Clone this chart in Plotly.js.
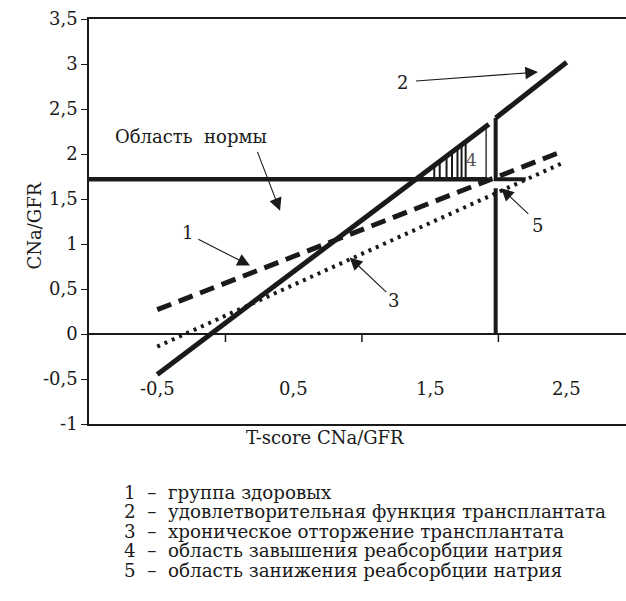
<!DOCTYPE html>
<html><head><meta charset="utf-8">
<script src="https://cdn.plot.ly/plotly-3.0.1.min.js"></script>
<style>html,body{margin:0;padding:0;background:#fff}</style>
</head><body><div id="chart"></div>
<script>
// --- data ---
const line1X = [-0.5, 2.47];            // 1 – группа здоровых (dashed)
const line1Y = [0.27, 2.03];
const line2X = [-0.5, 1.93, null, 1.98, 2.5];   // 2 – удовлетворительная функция (solid)
const line2Y = [-0.45, 2.33, null, 2.40, 3.02];
const line3X = [-0.5, 2.47];            // 3 – хроническое отторжение (dotted)
const line3Y = [-0.14, 1.90];
const normLevel = 1.72;                 // Область нормы
const normX = [-1, 1.92];
const region4EdgeX = [1.91, 1.91];
const region4EdgeY = [1.72, 2.32];
const hatchX = [1.53, 1.57, 1.62, 1.66, 1.70, 1.73, 1.76];
const hatchTop = [1.88, 1.93, 1.98, 2.03, 2.08, 2.11, 2.15];
const region5X = [1.98, 1.98, 2.20];
const region5Y = [2.40, 1.72, 1.72];
const cutX = [1.98, 1.98];
const cutY = [1.62, 0];
const yTickVals = [-1, -0.5, 0, 0.5, 1, 1.5, 2, 2.5, 3, 3.5];
const yTickText = ['-1', '-0,5', '0', '0,5', '1', '1,5', '2', '2,5', '3', '3,5'];
const xLabelVals = [-0.5, 0.5, 1.5, 2.5];
const xLabelText = ['-0,5', '0,5', '1,5', '2,5'];
const xTickMarks = [0, 1, 2];
const legendNums = ['1', '2', '3', '4', '5'];
const legendLabels = ['группа здоровых', 'удовлетворительная функция трансплантата',
  'хроническое отторжение трансплантата', 'область завышения реабсорбции натрия',
  'область занижения реабсорбции натрия'];
// labels with arrows: [text, textX, textY, tailX, tailY, headX, headY]
const callouts = [
  ['2', 1.30, 2.80, 1.385, 2.81, 2.29, 2.91],
  ['Область\u00a0\u00a0нормы', -0.256, 2.19, 0.23, 2.04, 0.40, 1.37],
  ['1', -0.28, 1.13, -0.21, 1.06, 0.18, 0.76],
  ['3', 1.23, 0.37, 1.19, 0.45, 0.91, 0.85],
  ['5', 2.29, 1.21, 2.23, 1.32, 2.02, 1.62]
];

const ink = '#1a1a1a';
const fam = 'DejaVu Serif';

const hx = [], hy = [];
hatchX.forEach((x, i) => { hx.push(x, x, null); hy.push(normLevel, hatchTop[i], null); });

const traces = [
  {x: line3X, y: line3Y, mode: 'lines', line: {color: ink, width: 4, dash: '3px,5px'}},
  {x: line1X, y: line1Y, mode: 'lines', line: {color: ink, width: 5, dash: '15px,8px'}},
  {x: hx, y: hy, mode: 'lines', line: {color: ink, width: 2}},
  {x: region4EdgeX, y: region4EdgeY, mode: 'lines', line: {color: ink, width: 1.3}},
  {x: normX, y: [normLevel, normLevel], mode: 'lines', line: {color: ink, width: 4.5}},
  {x: line2X, y: line2Y, mode: 'lines', line: {color: ink, width: 5}},
  {x: region5X, y: region5Y, mode: 'lines', line: {color: ink, width: 4}},
  {x: cutX, y: cutY, mode: 'lines', line: {color: ink, width: 4}}
].map(t => Object.assign(t, {showlegend: false, hoverinfo: 'skip', connectgaps: false}));

const annotations = [];
callouts.forEach(c => {
  annotations.push({x: c[1], y: c[2], xref: 'x', yref: 'y', text: c[0], showarrow: false,
    font: {family: fam, size: 18, color: ink}});
  annotations.push({x: c[5], y: c[6], ax: c[3], ay: c[4], xref: 'x', yref: 'y', axref: 'x', ayref: 'y',
    text: '', showarrow: true, arrowhead: 2, arrowsize: 2.3, arrowwidth: 1.1, arrowcolor: ink, standoff: 0});
});
annotations.push({x: 1.80, y: 1.93, xref: 'x', yref: 'y', text: '4', showarrow: false,
  font: {family: fam, size: 17, color: '#555'}});
xLabelVals.forEach((v, i) => annotations.push({x: v, y: -0.6, xref: 'x', yref: 'y', text: xLabelText[i],
  showarrow: false, font: {family: fam, size: 18, color: ink}}));
annotations.push({x: (325 - 89) / 537, y: -0.033, xref: 'paper', yref: 'paper', text: 'T-score CNa/GFR',
  showarrow: false, yanchor: 'middle', font: {family: fam, size: 18, color: ink}});
annotations.push({x: (22 - 89) / 537, y: 0.489, xref: 'paper', yref: 'paper', text: 'CNa/GFR', textangle: -90,
  showarrow: false, font: {family: fam, size: 18, color: ink}});
legendNums.forEach((n, i) => annotations.push({x: (122 - 89) / 537, y: (424 - (492 + i * 19.6)) / 405,
  xref: 'paper', yref: 'paper', xanchor: 'left', yanchor: 'middle', showarrow: false,
  text: n + '\u00a0\u00a0–\u00a0\u00a0' + legendLabels[i], font: {family: fam, size: 18.3, color: ink}}));

const shapes = xTickMarks.map(v => ({type: 'line', xref: 'x', yref: 'y', ysizemode: 'pixel', yanchor: 0,
  x0: v, x1: v, y0: 0, y1: -8, line: {color: ink, width: 1.5}}));

const layout = {
  width: 626, height: 601,
  margin: {l: 89, r: 0, t: 19, b: 177},
  paper_bgcolor: '#fff', plot_bgcolor: '#fff',
  showlegend: false,
  xaxis: {range: [-1, 2.935], showgrid: false, zeroline: false, showticklabels: false, ticks: '',
    showline: true, mirror: true, linecolor: ink, linewidth: 1.5, fixedrange: true},
  yaxis: {range: [-1, 3.5], showgrid: false, zeroline: true, zerolinecolor: ink, zerolinewidth: 1.5,
    tickvals: yTickVals, ticktext: yTickText, ticks: 'outside', ticklen: 6, tickwidth: 1.3, tickcolor: ink,
    showline: true, linecolor: ink, linewidth: 1.5, tickfont: {family: fam, size: 18, color: ink},
    fixedrange: true},
  annotations: annotations,
  shapes: shapes
};
Plotly.newPlot('chart', traces, layout, {displayModeBar: false});
</script></body></html>
